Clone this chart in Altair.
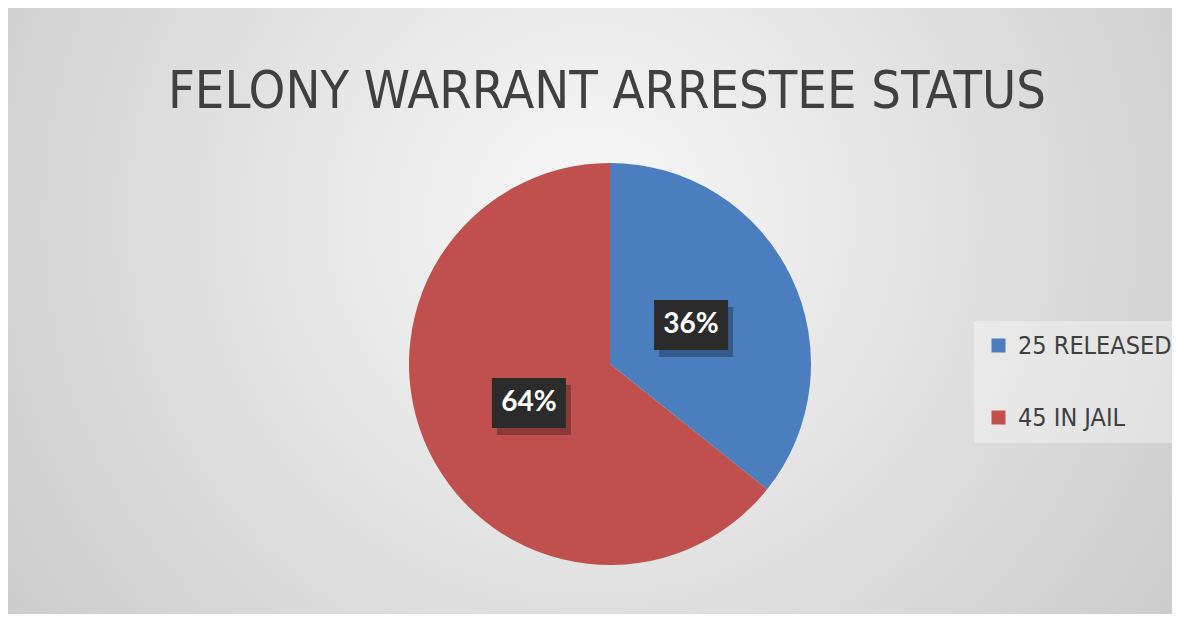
import altair as alt
import pandas as pd

TITLE = "FELONY WARRANT ARRESTEE STATUS"
STATUS = ["RELEASED", "IN JAIL"]
COUNTS = [25, 45]
COLORS = ["#4A7EBF", "#C0504D"]

LEGEND_LABELS = [f"{c} {s}" for c, s in zip(COUNTS, STATUS)]

df = pd.DataFrame({
    "status": LEGEND_LABELS,
    "count": COUNTS,
    "order": list(range(len(COUNTS))),
})

W, H = 1164, 606
CX, CY = 602, 356
R = 201
LABEL_R = 90
BOX_W, BOX_H = 74, 50
FONT = "DejaVu Sans Condensed, Lato, sans-serif"
LABEL_FONT = "Lato, Roboto, sans-serif"

bg = alt.Chart(df).transform_filter("datum.order == 0").mark_rect(
    fill={
        "gradient": "radial",
        "x1": 0.5, "y1": 0.42, "r1": 0,
        "x2": 0.5, "y2": 0.42, "r2": 0.75,
        "stops": [
            {"offset": 0, "color": "#f8f8f8"},
            {"offset": 1, "color": "#c2c2c2"},
        ],
    }
).encode(
    x=alt.value(0), x2=alt.value("width"),
    y=alt.value(0), y2=alt.value("height"),
)

pie = alt.Chart(df).mark_arc(outerRadius=R).encode(
    theta=alt.Theta("count:Q", stack=True),
    order=alt.Order("order:O"),
    x=alt.value(CX),
    y=alt.value(CY),
    color=alt.Color(
        "status:N",
        scale=alt.Scale(domain=LEGEND_LABELS, range=COLORS),
        title=None,
        legend=alt.Legend(
            orient="none",
            legendX=966,
            legendY=313,
            fillColor="rgba(255,255,255,0.35)",
            padding=12,
            symbolType="square",
            symbolSize=196,
            symbolStrokeWidth=0,
            labelFont=FONT,
            labelFontSize=25,
            labelColor="#404040",
            labelOffset=7,
            rowPadding=46,
            labelLimit=300,
        ),
    ),
)

# label positions derived from the data (mid-angle of each slice)
lab = alt.Chart(df).transform_joinaggregate(
    total="sum(count)"
).transform_window(
    cum="sum(count)", sort=[alt.SortField("order")], frame=[None, 0]
).transform_calculate(
    mid="(datum.cum - datum.count / 2) / datum.total * 2 * PI",
    pct="datum.count / datum.total",
).transform_calculate(
    px=f"{CX} + {LABEL_R} * sin(datum.mid)",
    py=f"{CY} - {LABEL_R} * cos(datum.mid)",
).transform_calculate(
    bx1=f"datum.px - {BOX_W / 2}",
    bx2=f"datum.px + {BOX_W / 2}",
    by1=f"datum.py - {BOX_H / 2}",
    by2=f"datum.py + {BOX_H / 2}",
    sx1=f"datum.px - {BOX_W / 2} + 5",
    sx2=f"datum.px + {BOX_W / 2} + 5",
    sy1=f"datum.py - {BOX_H / 2} + 7",
    sy2=f"datum.py + {BOX_H / 2} + 7",
)

shadow = lab.mark_rect(color="#000000", opacity=0.28).encode(
    x=alt.X("sx1:Q", scale=None), x2="sx2:Q",
    y=alt.Y("sy1:Q", scale=None), y2="sy2:Q",
)
box = lab.mark_rect(color="#2b2b2b").encode(
    x=alt.X("bx1:Q", scale=None), x2="bx2:Q",
    y=alt.Y("by1:Q", scale=None), y2="by2:Q",
)
labels = lab.mark_text(
    font=LABEL_FONT, fontSize=28, fontWeight="bold", color="#ffffff",
    align="center", baseline="middle",
).encode(
    x=alt.X("px:Q", scale=None),
    y=alt.Y("py:Q", scale=None),
    text=alt.Text("pct:Q", format=".0%"),
)

title = alt.Chart(df).transform_filter("datum.order == 0").mark_text(
    font=FONT, fontSize=52, color="#404040", baseline="alphabetic", align="center",
).encode(
    x=alt.value(599), y=alt.value(100), text=alt.value(TITLE),
)

chart = alt.layer(bg, pie, shadow, box, labels, title).properties(
    width=W, height=H, padding=0,
    autosize=alt.AutoSizeParams(type="fit", contains="padding"),
    background="#ffffff",
).configure_view(stroke=None)

chart.save("out.html", embed_options={"renderer": "svg", "actions": False})
